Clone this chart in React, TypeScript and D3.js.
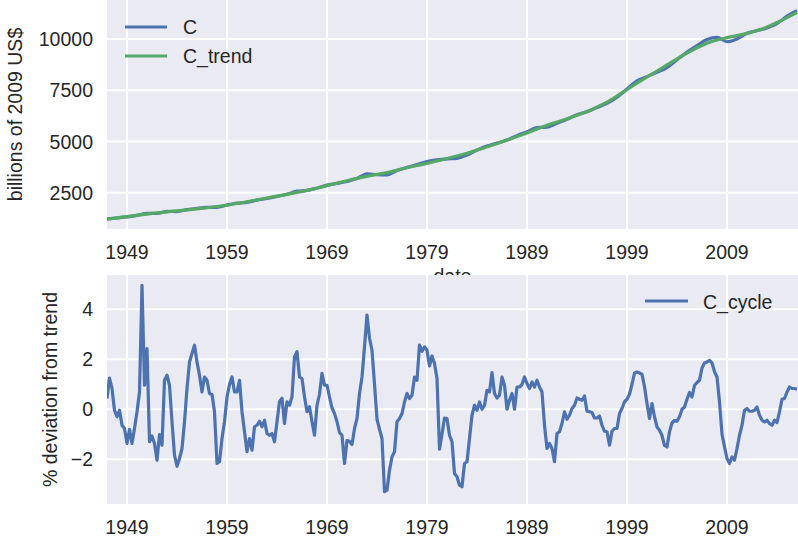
import React from 'react';
import * as d3 from 'd3';

// Annual values (first quarter of each year), billions of 2009 US$
const annualYears: number[] = d3.range(1947, 2017);
const C_trend: number[] = [
  1212, 1270, 1335, 1395, 1455, 1515, 1565, 1615, 1660, 1710,
  1765, 1825, 1890, 1975, 2060, 2150, 2240, 2330, 2420, 2515,
  2615, 2720, 2845, 2965, 3085, 3200, 3300, 3395, 3480, 3600,
  3715, 3825, 3930, 4050, 4170, 4295, 4430, 4580, 4740, 4900,
  5070, 5240, 5420, 5610, 5790, 5950, 6110, 6280, 6460, 6680,
  6920, 7220, 7540, 7850, 8150, 8440, 8740, 9040, 9320, 9580,
  9800, 9960, 10070, 10170, 10280, 10410, 10590, 10810, 11050, 11300,
];
const C: number[] = [
  1217, 1266, 1317, 1394, 1490, 1484, 1586, 1578, 1674, 1742,
  1785, 1785, 1899, 1989, 2025, 2136, 2218, 2318, 2427, 2573,
  2612, 2728, 2873, 2950, 3047, 3188, 3424, 3380, 3368, 3582,
  3739, 3870, 4023, 4100, 4155, 4179, 4337, 4578, 4776, 4922,
  5070, 5287, 5476, 5675, 5699, 5892, 6086, 6308, 6455, 6657,
  6858, 7164, 7563, 7967, 8169, 8380, 8608, 8997, 9366, 9683,
  9985, 10088, 9872, 10010, 10283, 10419, 10543, 10753, 11126, 11394,
];

// Quarterly cyclical component, % deviation from trend, 1947Q1 ...
const C_cycle: number[] = [
  0.43, 1.25, 0.83, -0.04, -0.3, -0.04, -0.64, -0.77, -1.37, -0.8,
  -1.37, -0.77, -0.1, 0.69, 4.96, 0.96, 2.43, -1.3, -1.07, -1.37,
  -2.04, -1.01, -1.44, 1.16, 1.36, 0.96, -0.5, -1.84, -2.28, -1.97,
  -1.57, -0.5, 0.83, 1.89, 2.23, 2.56, 1.89, 1.36, 0.69, 1.29,
  1.16, 0.63, 0.59, -0.1, -2.17, -2.1, -1.17, -0.5, 0.49, 0.99,
  1.29, 0.69, 0.69, 1.16, -0.1, -0.9, -1.7, -1.17, -1.64, -0.7,
  -0.64, -0.48, -0.7, -0.44, -0.97, -1.04, -0.97, -1.3, -0.5, 0.3,
  0.44, -0.57, 0.3, 0.16, 0.5, 2.1, 2.3, 1.29, 1.23, 0.5,
  -0.1, 0.1, -0.5, -1.04, 0.16, 0.6, 1.44, 0.96, 0.96, 0.49,
  0.05, -0.17, -0.5, -0.93, -1.04, -2.17, -1.25, -1.28, -1.41, -0.77,
  -0.37, 0.63, 1.29, 2.5, 3.77, 2.84, 2.36, 1.0, -0.4, -0.8,
  -1.17, -3.3, -3.24, -2.44, -1.9, -1.7, -0.5, -0.37, -0.17, 0.29,
  0.63, 0.43, 0.56, 1.29, 1.16, 2.57, 2.32, 2.49, 2.36, 1.73,
  2.13, 1.83, 1.23, -1.6, -1.0, -0.35, -0.37, -1.04, -1.3, -2.57,
  -2.7, -3.04, -3.1, -2.17, -2.1, -1.17, -0.24, 0.16, -0.04, 0.29,
  0, 0.16, 0.76, 0.69, 1.47, 0.63, 0.45, 0.56, 1.29, 0.96,
  0, 0.36, 0.63, 0, 0.89, 0.89, 0.99, 1.29, 1.03, 0.83,
  1.09, 0.89, 1.16, 0.89, 0.69, -0.64, -1.57, -1.37, -1.57, -2.1,
  -0.97, -0.9, -0.57, -0.1, -0.4, -0.24, 0.03, 0.16, 0.45, 0.4,
  0.36, 0.53, -0.08, -0.1, -0.13, -0.35, -0.35, -0.27, -0.64, -0.88,
  -0.9, -1.44, -0.88, -0.77, -0.77, -0.17, 0.03, 0.3, 0.4, 0.6,
  1.0, 1.45, 1.49, 1.45, 1.4, 0.9, 0.23, -0.37, 0.23, -0.3,
  -0.71, -0.84, -1.05, -1.45, -1.51, -0.9, -0.55, -0.45, -0.48, -0.3,
  0.0, 0.09, 0.4, 0.67, 0.49, 0.95, 1.07, 1.16, 1.65, 1.85,
  1.89, 1.96, 1.85, 1.5, 1.29, 0.3, -1.0, -1.5, -1.97, -2.17,
  -1.91, -2.04, -1.57, -1.04, -0.64, -0.04, 0.03, -0.08, -0.08, -0.04,
  0.09, -0.24, -0.44, -0.51, -0.44, -0.57, -0.64, -0.44, -0.53, -0.1,
  0.4, 0.43, 0.69, 0.89, 0.83, 0.83, 0.8,
];
const quarterDates: number[] = C_cycle.map((_, i) => 1947 + i * 0.25);

const xTicks: number[] = [1949, 1959, 1969, 1979, 1989, 1999, 2009];
const yTicksTop: number[] = [2500, 5000, 7500, 10000];
const yTicksBottom: number[] = [-2, 0, 2, 4];

const BLUE = '#4C72B0';
const GREEN = '#55A868';
const BG = '#EAEAF2';
const TXT = '#262626';
const FONT = '"Liberation Sans", Arial, Helvetica, sans-serif';
const FS = 19.5;

export default function App() {
  const W = 798, H = 550;
  const L = 107, R = 798;
  const t1 = 0, b1 = 229;
  const t2 = 275, b2 = 504;

  const x = d3.scaleLinear().domain([1947, 2016.1]).range([L, R]);
  const y1 = d3.scaleLinear().domain([727, 11910]).range([b1, t1]);
  const y2 = d3.scaleLinear().domain([-3.79, 5.37]).range([b2, t2]);

  const lineTop = d3.line<number>().x((_, i) => x(annualYears[i])).y(d => y1(d)).curve(d3.curveMonotoneX);
  const lineBottom = d3.line<number>().x((_, i) => x(quarterDates[i])).y(d => y2(d));

  const fmtMinus = (v: number) => (v < 0 ? '\u2212' + Math.abs(v) : String(v));

  return (
    <svg width={W} height={H} style={{ position: 'absolute', left: 0, top: 0, background: '#fff' }}
      fontFamily={FONT} fontSize={FS} fill={TXT}>
      <defs>
        <clipPath id="clipTop"><rect x={L} y={t1} width={R - L} height={b1 - t1} /></clipPath>
        <clipPath id="clipBot"><rect x={L} y={t2} width={R - L} height={b2 - t2} /></clipPath>
      </defs>

      {/* top axes */}
      <rect x={L} y={t1} width={R - L} height={b1 - t1} fill={BG} />
      {xTicks.map(t => (
        <line key={'gx1' + t} x1={x(t)} x2={x(t)} y1={t1} y2={b1} stroke="#fff" strokeWidth={2} />
      ))}
      {yTicksTop.map(t => (
        <line key={'gy1' + t} x1={L} x2={R} y1={y1(t)} y2={y1(t)} stroke="#fff" strokeWidth={2} />
      ))}
      <g clipPath="url(#clipTop)">
        <path d={lineTop(C) || ''} fill="none" stroke={BLUE} strokeWidth={3.2} strokeLinejoin="round" />
        <path d={lineTop(C_trend) || ''} fill="none" stroke={GREEN} strokeWidth={3.2} strokeLinejoin="round" />
      </g>
      {yTicksTop.map(t => (
        <text key={'ty1' + t} x={93} y={y1(t)} dy="0.36em" textAnchor="end">{t}</text>
      ))}
      {xTicks.map(t => (
        <text key={'tx1' + t} x={x(t)} y={b1 + 29.5} textAnchor="middle">{t}</text>
      ))}
      <text transform={`translate(22,${(t1 + b1) / 2}) rotate(-90)`} textAnchor="middle">billions of 2009 US$</text>
      <text x={(L + R) / 2} y={283} textAnchor="middle">date</text>
      {/* top legend */}
      <line x1={125} x2={167} y1={27} y2={27} stroke={BLUE} strokeWidth={3.2} />
      <text x={183} y={34}>C</text>
      <line x1={125} x2={167} y1={56} y2={56} stroke={GREEN} strokeWidth={3.2} />
      <text x={183} y={63}>C_trend</text>

      {/* bottom axes */}
      <rect x={L} y={t2} width={R - L} height={b2 - t2} fill={BG} />
      {xTicks.map(t => (
        <line key={'gx2' + t} x1={x(t)} x2={x(t)} y1={t2} y2={b2} stroke="#fff" strokeWidth={2} />
      ))}
      {yTicksBottom.map(t => (
        <line key={'gy2' + t} x1={L} x2={R} y1={y2(t)} y2={y2(t)} stroke="#fff" strokeWidth={2} />
      ))}
      <g clipPath="url(#clipBot)">
        <path d={lineBottom(C_cycle) || ''} fill="none" stroke={BLUE} strokeWidth={3.2} strokeLinejoin="round" />
      </g>
      {yTicksBottom.map(t => (
        <text key={'ty2' + t} x={93} y={y2(t)} dy="0.36em" textAnchor="end">{fmtMinus(t)}</text>
      ))}
      {xTicks.map(t => (
        <text key={'tx2' + t} x={x(t)} y={b2 + 29.5} textAnchor="middle">{t}</text>
      ))}
      <text transform={`translate(57,${(t2 + b2) / 2}) rotate(-90)`} textAnchor="middle">% deviation from trend</text>
      {/* bottom legend */}
      <line x1={645} x2={688} y1={301} y2={301} stroke={BLUE} strokeWidth={3.2} />
      <text x={703} y={309}>C_cycle</text>
    </svg>
  );
}
